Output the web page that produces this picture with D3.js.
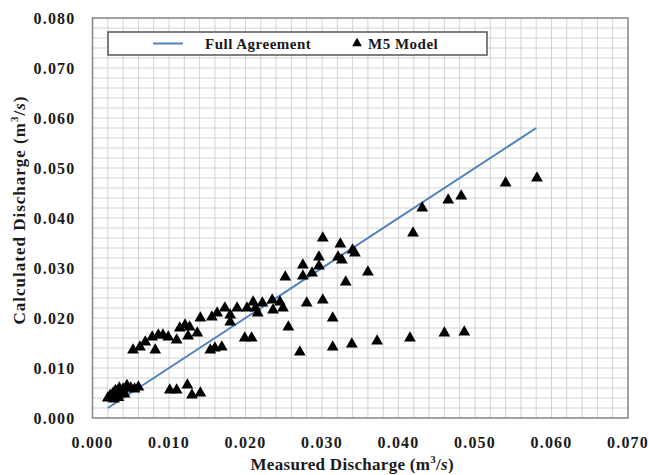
<!DOCTYPE html>
<meta charset="utf-8">

<style>
  body { margin: 0; background: #fff; }
  text {
    font-family: "Liberation Serif", "DejaVu Serif", serif;
    font-weight: bold;
    fill: #1a1a1a;
  }
  .grid line { stroke: #d2d2d2; stroke-width: 1; }
  .tick-label { font-size: 16px; letter-spacing: 1.2px; }
  .legend-label { font-size: 15px; letter-spacing: 0.5px; }
</style>

<svg width="649" height="475"></svg>

<script src="https://d3js.org/d3.v7.min.js"></script>
<script>
// ====================================================================
const xTicks = [0, 0.01, 0.02, 0.03, 0.04, 0.05, 0.06, 0.07]
const yTicks = [0, 0.01, 0.02, 0.03, 0.04, 0.05, 0.06, 0.07, 0.08]

// full agreement line, x = y
const agreement = [0.002, 0.058]

// M5 model points
const measured = [
  0.0020, 0.0023, 0.0025, 0.0027, 0.0028, 0.0030, 0.0032, 0.0034,
  0.0035, 0.0038, 0.0040, 0.0042, 0.0045, 0.0050, 0.0055, 0.0060,
  0.0101, 0.0110, 0.0124, 0.0130, 0.0141,
  0.0053, 0.0062, 0.0069, 0.0078, 0.0082, 0.0086, 0.0092, 0.0099,
  0.0110, 0.0114, 0.0121, 0.0127, 0.0125, 0.0137, 0.0141, 0.0156,
  0.0163, 0.0173, 0.0180, 0.0180, 0.0189, 0.0202, 0.0210, 0.0213,
  0.0216, 0.0222, 0.0235, 0.0236, 0.0245, 0.0249, 0.0252, 0.0154,
  0.0160, 0.0169, 0.0199, 0.0208, 0.0256,
  0.0431, 0.0419, 0.0301, 0.0324, 0.0340, 0.0343, 0.0296, 0.0321,
  0.0326, 0.0275, 0.0296, 0.0360, 0.0287, 0.0275, 0.0331, 0.0280,
  0.0301, 0.0314,
  0.0271, 0.0314, 0.0339, 0.0372, 0.0415, 0.0460, 0.0486,
  0.0540, 0.0581, 0.0465, 0.0482
]
const calculated = [
  0.0040, 0.0045, 0.0042, 0.0050, 0.0038, 0.0055, 0.0046, 0.0041,
  0.0060, 0.0052, 0.0058, 0.0048, 0.0065, 0.0060, 0.0058, 0.0062,
  0.0056, 0.0056, 0.0066, 0.0046, 0.0050,
  0.0136, 0.0142, 0.0152, 0.0162, 0.0136, 0.0166, 0.0166, 0.0162,
  0.0156, 0.0180, 0.0186, 0.0182, 0.0164, 0.0170, 0.0200, 0.0202,
  0.0210, 0.0220, 0.0206, 0.0192, 0.0220, 0.0220, 0.0232, 0.0220,
  0.0210, 0.0230, 0.0236, 0.0216, 0.0232, 0.0220, 0.0282, 0.0136,
  0.0140, 0.0142, 0.0160, 0.0160, 0.0182,
  0.0420, 0.0370, 0.0360, 0.0348, 0.0336, 0.0330, 0.0322, 0.0322,
  0.0316, 0.0306, 0.0304, 0.0292, 0.0290, 0.0284, 0.0272, 0.0230,
  0.0236, 0.0200,
  0.0132, 0.0142, 0.0148, 0.0154, 0.0160, 0.0170, 0.0172,
  0.0470, 0.0480, 0.0436, 0.0444
]

// ====================================================================
const svg = d3.select("svg")
const margin = {left: 92.5, top: 18, right: 21, bottom: 57}
const width = +svg.attr("width") - margin.left - margin.right,
  height = +svg.attr("height") - margin.top - margin.bottom

const x = d3.scaleLinear().domain([0, 0.07]).range([0, width])
const y = d3.scaleLinear().domain([0, 0.08]).range([height, 0])

const g = svg.append("g").attr("transform", `translate(${margin.left},${margin.top})`)

//minor grid every 0.002
const grid = g.append("g").attr("class", "grid")
grid.selectAll("line.v")
  .data(d3.range(1, 35).map(i => i * 0.002))
  .enter().append("line")
  .attr("x1", d => x(d)).attr("x2", d => x(d))
  .attr("y1", 0).attr("y2", height)
grid.selectAll("line.h")
  .data(d3.range(1, 40).map(i => i * 0.002))
  .enter().append("line")
  .attr("y1", d => y(d)).attr("y2", d => y(d))
  .attr("x1", 0).attr("x2", width)

g.append("rect")
  .attr("width", width).attr("height", height)
  .attr("fill", "none").attr("stroke", "#858585").attr("stroke-width", 1.5)

//tick labels
g.selectAll("text.xl")
  .data(xTicks)
  .enter().append("text")
  .attr("class", "tick-label")
  .attr("x", d => x(d)).attr("y", height + 30)
  .attr("text-anchor", "middle")
  .text(d3.format(".3f"))

g.selectAll("text.yl")
  .data(yTicks)
  .enter().append("text")
  .attr("class", "tick-label")
  .attr("x", -17).attr("y", d => y(d))
  .attr("dy", "0.35em")
  .attr("text-anchor", "end")
  .text(d3.format(".3f"))

//full agreement line
g.append("line")
  .attr("x1", x(agreement[0])).attr("y1", y(agreement[0]))
  .attr("x2", x(agreement[1])).attr("y2", y(agreement[1]))
  .attr("stroke", "#4f81bd").attr("stroke-width", 2)

//model points
const tri = d3.symbol().type(d3.symbolTriangle).size(60)
g.selectAll("path.pt")
  .data(measured.map((m, i) => [m, calculated[i]]))
  .enter().append("path")
  .attr("d", tri)
  .attr("transform", d => `translate(${x(d[0])},${y(d[1])})`)
  .attr("fill", "#000")

//legend
const lg = svg.append("g")
lg.append("rect")
  .attr("x", 108).attr("y", 32).attr("width", 379).attr("height", 23)
  .attr("fill", "#fff").attr("stroke", "#555").attr("stroke-width", 1.5)
lg.append("line")
  .attr("x1", 153).attr("x2", 183).attr("y1", 43.5).attr("y2", 43.5)
  .attr("stroke", "#4f81bd").attr("stroke-width", 2)
lg.append("text").attr("class", "legend-label").attr("x", 205).attr("y", 48.5)
  .text("Full Agreement")
lg.append("path").attr("d", d3.symbol().type(d3.symbolTriangle).size(42))
  .attr("transform", "translate(357,43.5)")
lg.append("text").attr("class", "legend-label").attr("x", 368).attr("y", 48.5)
  .text("M5 Model")

//axis titles
const xt = svg.append("text")
  .attr("x", margin.left + width / 2 - 8).attr("y", 470)
  .attr("text-anchor", "middle")
  .style("font-size", "17px").style("letter-spacing", "0.3px")
xt.append("tspan").text("Measured Discharge (m")
xt.append("tspan").attr("dy", -7).style("font-size", "11px").text("3")
xt.append("tspan").attr("dy", 7).text("/")
xt.append("tspan").style("font-style", "italic").text("s")
xt.append("tspan").text(")")

const yt = svg.append("text")
  .attr("transform", "translate(25,210) rotate(-90)")
  .attr("text-anchor", "middle")
  .style("font-size", "17px").style("letter-spacing", "1px")
yt.append("tspan").text("Calculated Discharge (m")
yt.append("tspan").attr("dy", -7).style("font-size", "11px").text("3")
yt.append("tspan").attr("dy", 7).text("/")
yt.append("tspan").style("font-style", "italic").text("s")
yt.append("tspan").text(")")
</script>
